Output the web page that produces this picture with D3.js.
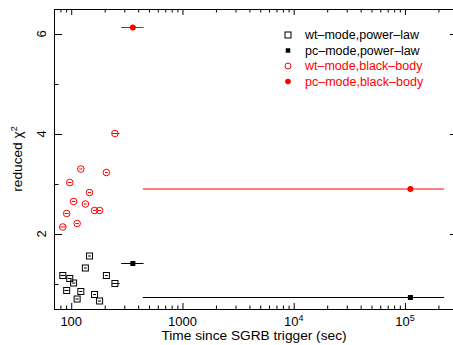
<!DOCTYPE html>
<html>
<head>
<meta charset="utf-8">
<script src="https://cdn.jsdelivr.net/npm/d3@7"></script>
<style>
  body { margin: 0; background: #fff; }
  svg { display: block; font-family: "Liberation Sans", Arial, sans-serif; }
</style>
</head>
<body>
<svg id="chart" width="453" height="345"></svg>
<script>
// wt-mode points (time in sec, lower / upper time bound)
const wtTime = [84, 91, 97, 105, 113, 122, 134, 146, 162, 180, 207, 247];
const wtTimeLo = [80, 87, 93, 101, 109, 118, 130, 141, 157, 174, 201, 233];
const wtTimeHi = [88, 95, 101, 109, 117, 126, 138, 151, 167, 186, 213, 272];
const wtPowerLaw = [1.17, 0.87, 1.11, 1.02, 0.70, 0.85, 1.32, 1.56, 0.79, 0.66, 1.17, 1.01];
const wtBlackBody = [2.14, 2.41, 3.03, 2.65, 2.21, 3.30, 2.60, 2.83, 2.47, 2.47, 3.23, 4.01];

// pc-mode points
const pcTime = [358, 112000];
const pcTimeLo = [281, 440];
const pcTimeHi = [447, 225000];
const pcPowerLaw = [1.41, 0.73];
const pcBlackBody = [6.13, 2.90];

const xMajor = [100, 1000, 1e4, 1e5];
const xTickBase = ["100", "1000", "10", "10"];
const xTickExp = ["", "", "4", "5"];
const yMajor = [2, 4, 6];
const yMinor = [1, 3, 5];

const legendLabels = ["wt\u2013mode,power\u2013law", "pc\u2013mode,power\u2013law",
  "wt\u2013mode,black\u2013body", "pc\u2013mode,black\u2013body"];

const mLeft = 54, mRight = 458, mTop = 9, mBottom = 309;
const svg = d3.select("#chart");

const x = d3.scaleLog().domain([70, 3e5]).range([mLeft, mRight]);
const y = d3.scaleLinear().domain([0.5, 6.5]).range([mBottom, mTop]);

const xMinor = x.ticks().filter(v => !xMajor.includes(v));

// frame
svg.append("rect")
  .attr("x", mLeft + 0.5).attr("y", mTop + 0.5)
  .attr("width", mRight - mLeft).attr("height", mBottom - mTop)
  .attr("fill", "none").attr("stroke", "#000");

function axis(gen, tx, ty, values, size) {
  const g = svg.append("g")
    .attr("transform", `translate(${tx},${ty})`)
    .call(gen.tickValues(values).tickSize(size).tickSizeOuter(0).tickFormat(""));
  g.select(".domain").remove();
  g.selectAll("line").attr("stroke", "#000");
}
// ticks point inward on all four sides
axis(d3.axisBottom(x), 0, mBottom, xMajor, -6);
axis(d3.axisBottom(x), 0, mBottom, xMinor, -3.5);
axis(d3.axisTop(x), 0, mTop, xMajor, -6);
axis(d3.axisTop(x), 0, mTop, xMinor, -3.5);
axis(d3.axisLeft(y), mLeft, 0, yMajor, -8);
axis(d3.axisLeft(y), mLeft, 0, yMinor, -4.5);
axis(d3.axisRight(y), mRight, 0, yMajor, -8);
axis(d3.axisRight(y), mRight, 0, yMinor, -4.5);

// x tick labels
xMajor.forEach((v, i) => {
  const t = svg.append("text")
    .attr("x", x(v)).attr("y", mBottom + 17)
    .attr("text-anchor", "middle").attr("font-size", 13);
  t.append("tspan").text(xTickBase[i]);
  if (xTickExp[i]) t.append("tspan").attr("dy", -5).attr("font-size", 9).text(xTickExp[i]);
});

// y tick labels (rotated)
yMajor.forEach(v => {
  svg.append("text")
    .attr("transform", `translate(41,${y(v)}) rotate(-90)`)
    .attr("text-anchor", "middle").attr("dy", "0.35em")
    .attr("font-size", 13).text(v);
});

svg.append("text")
  .attr("x", (mLeft + mRight) / 2 - 2).attr("y", 340)
  .attr("text-anchor", "middle").attr("font-size", 13.7)
  .text("Time since SGRB trigger (sec)");

const yt = svg.append("text")
  .attr("transform", `translate(22,${(mTop + mBottom) / 2}) rotate(-90)`)
  .attr("text-anchor", "middle").attr("font-size", 13.7);
yt.append("tspan").text("reduced \u03c7");
yt.append("tspan").attr("dy", -5).attr("font-size", 9).text("2");

// error bars
function errBars(t, lo, hi, vals, color) {
  svg.append("g").selectAll("line")
    .data(vals)
    .join("line")
    .attr("x1", (d, i) => x(lo[i])).attr("x2", (d, i) => x(hi[i]))
    .attr("y1", d => y(d)).attr("y2", d => y(d))
    .attr("stroke", color).attr("stroke-width", 1);
}
errBars(wtTime, wtTimeLo, wtTimeHi, wtPowerLaw, "#000");
errBars(wtTime, wtTimeLo, wtTimeHi, wtBlackBody, "#ff0000");
errBars(pcTime, pcTimeLo, pcTimeHi, pcPowerLaw, "#000");
errBars(pcTime, pcTimeLo, pcTimeHi, pcBlackBody, "#ff0000");

// markers
svg.append("g").selectAll("rect")
  .data(wtPowerLaw)
  .join("rect")
  .attr("x", (d, i) => x(wtTime[i]) - 3).attr("y", d => y(d) - 3)
  .attr("width", 6).attr("height", 6)
  .attr("fill", "none").attr("stroke", "#000");

svg.append("g").selectAll("circle")
  .data(wtBlackBody)
  .join("circle")
  .attr("cx", (d, i) => x(wtTime[i])).attr("cy", d => y(d))
  .attr("r", 3.3).attr("fill", "none").attr("stroke", "#ff0000");

svg.append("g").selectAll("rect")
  .data(pcPowerLaw)
  .join("rect")
  .attr("x", (d, i) => x(pcTime[i]) - 2.5).attr("y", d => y(d) - 2.5)
  .attr("width", 5).attr("height", 5).attr("fill", "#000");

svg.append("g").selectAll("circle")
  .data(pcBlackBody)
  .join("circle")
  .attr("cx", (d, i) => x(pcTime[i])).attr("cy", d => y(d))
  .attr("r", 3).attr("fill", "#ff0000");

// legend
const legColors = ["#000", "#000", "#ff0000", "#ff0000"];
const leg = svg.append("g").attr("transform", "translate(288,35)");
legendLabels.forEach((lab, i) => {
  const row = leg.append("g").attr("transform", `translate(0,${i * 15.5})`);
  if (i === 0) row.append("rect").attr("x", -3).attr("y", -3).attr("width", 6).attr("height", 6)
    .attr("fill", "none").attr("stroke", "#000");
  if (i === 1) row.append("rect").attr("x", -2.25).attr("y", -2.25).attr("width", 4.5).attr("height", 4.5)
    .attr("fill", "#000");
  if (i === 2) row.append("circle").attr("r", 3).attr("fill", "none").attr("stroke", "#ff0000");
  if (i === 3) row.append("circle").attr("r", 2.8).attr("fill", "#ff0000");
  row.append("text").attr("x", 17).attr("dy", "0.35em")
    .attr("font-size", 12.5).attr("fill", legColors[i]).text(lab);
});
</script>
</body>
</html>
